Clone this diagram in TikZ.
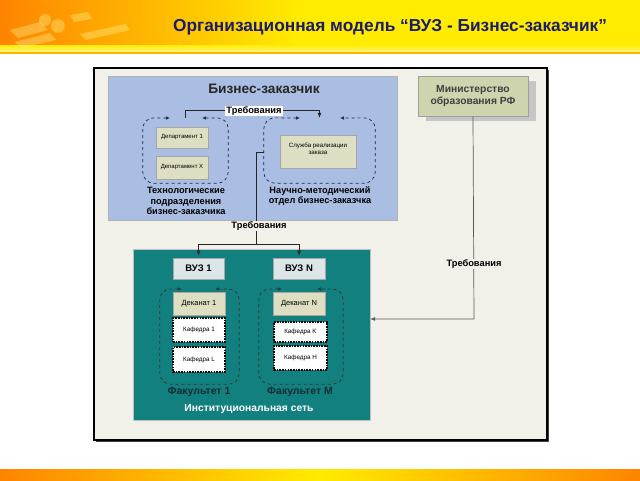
\documentclass[tikz,border=0pt]{standalone}
\usepackage{fontspec}
\setmainfont{Liberation Sans}
\usetikzlibrary{arrows.meta,calc}
\definecolor{hdrorange}{HTML}{FF8400}
\definecolor{hdryellow}{HTML}{FFEC00}
\definecolor{titleblue}{HTML}{1B1B6B}
\definecolor{framebg}{HTML}{F1F1EA}
\definecolor{bizblue}{HTML}{A9BEE2}
\definecolor{deptfill}{HTML}{DEDFC2}
\definecolor{netteal}{HTML}{12807E}
\definecolor{vuzfill}{HTML}{DCE5E8}
\definecolor{minfill}{HTML}{CDD4AE}
\definecolor{facdark}{HTML}{0B2E33}
\definecolor{dashcol}{HTML}{1E2A48}
\tikzset{
  box/.style={draw=gray!70, line width=0.6pt, minimum width=#1, inner sep=1pt, align=center},
  dept/.style={box=52pt, fill=deptfill, font=\fontsize{6}{7}\selectfont},
  kaf/.style={draw=black, line width=1.1pt, dash pattern=on 1.6pt off 1.1pt, fill=white, minimum width=#1, font=\fontsize{6.3}{7}\selectfont},
  vuz/.style={box=#1, fill=vuzfill, minimum height=21pt, font=\bfseries\fontsize{9.5}{11}\selectfont},
  dek/.style={box=52pt, fill=deptfill, minimum height=23pt, font=\fontsize{7.5}{9}\selectfont},
  dashloop/.style={dashed, draw=dashcol, line width=0.7pt, rounded corners=11pt, {Latex[length=4pt,width=3.5pt]}-{Latex[length=4pt,width=3.5pt]}},
  conn/.style={draw=black!85, line width=0.7pt},
  req/.style={font=\bfseries\fontsize{9.3}{11}\selectfont, inner sep=1pt},
  sub/.style={font=\bfseries\fontsize{9.2}{10.5}\selectfont, align=center, inner sep=0pt},
  fac/.style={font=\bfseries\fontsize{10.5}{12}\selectfont, text=facdark}
}
\begin{document}
\begin{tikzpicture}[x=1pt,y=-1pt]
\useasboundingbox (0,0) rectangle (640,480);
% header
\shade[left color=hdrorange, right color=hdryellow] (0,0) rectangle (300,53);
\fill[hdryellow] (299.5,0) rectangle (640,53);
\shade[top color=hdryellow, bottom color=hdryellow!40!white] (0,45) rectangle (640,53);
\fill[orange!60!yellow] (0,52) rectangle (640,54);
\begin{scope}[opacity=0.35, fill=yellow!40!white]
  \fill (10,30) -- (40,22) -- (48,30) -- (18,38) -- cycle;
  \fill (14,42) -- (50,33) -- (56,40) -- (22,48) -- cycle;
  \fill (45,20) circle (6);
  \fill (58,26) circle (7);
  \fill (70,15) -- (88,12) -- (92,19) -- (74,22) -- cycle;
  \fill (80,34) -- (125,24) -- (130,30) -- (86,40) -- cycle;
\end{scope}
\node[font=\bfseries\fontsize{17.3}{20}\selectfont, text=titleblue] (title) at (390,27) {Организационная модель “ВУЗ - Бизнес-заказчик”};
% bottom bar
\shade[left color=hdrorange, right color=hdryellow] (0,469) rectangle (320,480);
\shade[left color=hdryellow, right color=hdrorange] (319.5,469) rectangle (640,480);
% main frame
\fill[black!75] (95.5,69.5) rectangle (548.5,441.5);
\node[draw=black, line width=1.2pt, fill=framebg, minimum width=453pt, minimum height=372pt, inner sep=0pt] (frame) at (320.5,254) {};
% business customer
\node[draw=gray!60, line width=0.6pt, fill=bizblue, minimum width=289pt, minimum height=144pt, inner sep=0pt] (biz) at (252.5,148) {};
\node[font=\bfseries\fontsize{13.7}{16}\selectfont, text=black!85] (bizt) at (264,89) {Бизнес-заказчик};
\node[minimum width=85pt, minimum height=65pt, inner sep=0pt] (tech) at (185.5,150.5) {};
\node[minimum width=111pt, minimum height=65pt, inner sep=0pt] (nmo) at (319.5,150.5) {};
\draw[dashloop] (170,118) -- (tech.north west) -- (tech.south west) -- (tech.south east) -- (tech.north east) -- (202,118);
\draw[dashloop] (300,118) -- (nmo.north west) -- (nmo.south west) -- (nmo.south east) -- (nmo.north east) -- (340,118);
\node[dept, minimum height=21pt] (d1) at (182,137.5) {Департамент 1};
\node[dept, minimum height=23pt] (dx) at (182,167.5) {Департамент X};
\node[box=76pt, fill=deptfill, minimum height=33pt] (serv) at (318,151.5) {};
\node[font=\fontsize{6.2}{7.2}\selectfont, align=center, anchor=north] (servt) at (318,139) {Служба реализации\\заказа};
\node[sub] (techt) at (186,201) {Технологические\\подразделения\\бизнес-заказчика};
\node[sub] (nmot) at (320,196) {Научно-методический\\отдел бизнес-заказчка};
\draw[conn, -{Latex[length=5pt,width=4pt]}] (tech.north) -- ++(0,-7) -| (nmo.north);
\node[req, fill=white] (req1) at (254,111) {Требования};
% institutional network
\node[draw=gray!50, fill=netteal, minimum width=237pt, minimum height=171pt, inner sep=0pt] (net) at (251.5,334.5) {};
\node[vuz=51pt] (vuz1) at (198.5,268.5) {ВУЗ 1};
\node[vuz=52pt] (vuzn) at (299,268.5) {ВУЗ N};
\node[minimum width=79pt, minimum height=95pt, inner sep=0pt] (fac1) at (199.5,336.5) {};
\node[minimum width=84pt, minimum height=95pt, inner sep=0pt] (facm) at (301,336.5) {};
\draw[dashloop, draw=black!80] (182,289) -- (fac1.north west) -- (fac1.south west) -- (fac1.south east) -- (fac1.north east) -- (215,289);
\draw[dashloop, draw=black!80] (282,289) -- (facm.north west) -- (facm.south west) -- (facm.south east) -- (facm.north east) -- (317,289);
\node[dek] (dek1) at (199,303.5) {Деканат 1};
\node[dek] (dekn) at (299,303.5) {Деканат N};
\node[kaf=52pt, minimum height=24pt] (kaf1) at (199,330) {Кафедра 1};
\node[kaf=52pt, minimum height=25pt] (kafl) at (199,359.5) {Кафедра L};
\node[kaf=53pt, minimum height=20pt] (kafk) at (300.5,332) {Кафедра K};
\node[kaf=53pt, minimum height=24pt] (kafh) at (300.5,358) {Кафедра H};
\node[fac] (fac1t) at (199,392) {Факультет 1};
\node[fac] (facmt) at (300,392) {Факультет М};
\node[font=\bfseries\fontsize{10.3}{12}\selectfont, text=white] (nett) at (249,409) {Институциональная сеть};
\coordinate (j) at (256,244);
\draw[conn] (nmo.west |- 0,152) -| (j);
\draw[conn, -{Latex[length=5pt,width=4pt]}, shorten >=2pt] (j) -| (vuz1.north);
\draw[conn, -{Latex[length=5pt,width=4pt]}, shorten >=2pt] (j) -| (vuzn.north);
\node[req, fill=framebg] (req2) at (259,226) {Требования};
% ministry
\fill[gray!45] (426,81) rectangle (536,121);
\node[draw=gray!75, line width=0.6pt, fill=minfill, minimum width=110pt, minimum height=40pt, inner sep=0pt, align=center, font=\bfseries\fontsize{10.3}{11.5}\selectfont, text=black!75] (min) at (473,96) {Министерство\\образования РФ};
\coordinate (mc) at (474,319);
\draw[conn, draw=black!65, -{Latex[length=5pt,width=4pt]}] (min.south) -- (mc) -- (net.east |- mc);
\node[req, fill=framebg] (req3) at (474,264) {Требования};
\end{tikzpicture}
\end{document}
